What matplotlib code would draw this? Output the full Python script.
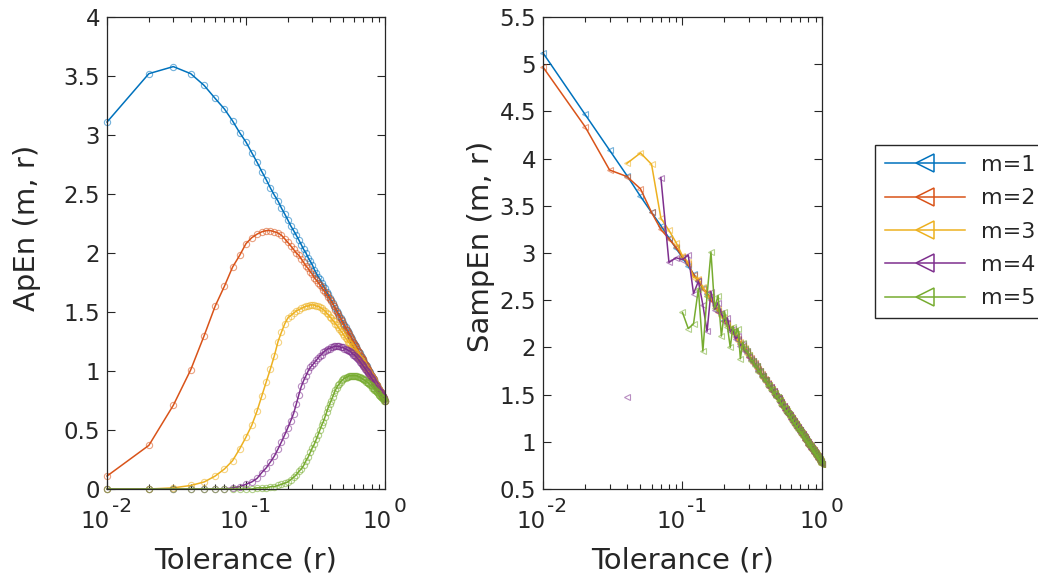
import matplotlib
matplotlib.use('Agg')
import matplotlib.pyplot as plt
from matplotlib.lines import Line2D
from matplotlib.ticker import LogLocator, NullFormatter
from matplotlib.transforms import blended_transform_factory, offset_copy

nan = float('nan')

# tolerance grid
r = [0.01, 0.02, 0.03, 0.04, 0.05, 0.06, 0.07, 0.08, 0.09, 0.10,
     0.11, 0.12, 0.13, 0.14, 0.15, 0.16, 0.17, 0.18, 0.19, 0.20,
     0.21, 0.22, 0.23, 0.24, 0.25, 0.26, 0.27, 0.28, 0.29, 0.30,
     0.31, 0.32, 0.33, 0.34, 0.35, 0.36, 0.37, 0.38, 0.39, 0.40,
     0.41, 0.42, 0.43, 0.44, 0.45, 0.46, 0.47, 0.48, 0.49, 0.50,
     0.51, 0.52, 0.53, 0.54, 0.55, 0.56, 0.57, 0.58, 0.59, 0.60,
     0.61, 0.62, 0.63, 0.64, 0.65, 0.66, 0.67, 0.68, 0.69, 0.70,
     0.71, 0.72, 0.73, 0.74, 0.75, 0.76, 0.77, 0.78, 0.79, 0.80,
     0.81, 0.82, 0.83, 0.84, 0.85, 0.86, 0.87, 0.88, 0.89, 0.90,
     0.91, 0.92, 0.93, 0.94, 0.95, 0.96, 0.97, 0.98, 0.99, 1.00]

# ApEn(m, r)
apen_m1 = [3.11, 3.52, 3.58, 3.52, 3.42, 3.31, 3.22, 3.12, 3.02, 2.94,
           2.85, 2.77, 2.69, 2.62, 2.55, 2.49, 2.44, 2.38, 2.33, 2.28,
           2.23, 2.19, 2.15, 2.11, 2.07, 2.03, 2.00, 1.96, 1.93, 1.90,
           1.86, 1.83, 1.80, 1.78, 1.75, 1.72, 1.70, 1.67, 1.65, 1.62,
           1.60, 1.58, 1.55, 1.53, 1.51, 1.49, 1.47, 1.45, 1.43, 1.41,
           1.39, 1.37, 1.35, 1.34, 1.32, 1.30, 1.29, 1.27, 1.25, 1.24,
           1.22, 1.21, 1.19, 1.17, 1.16, 1.15, 1.13, 1.12, 1.10, 1.09,
           1.08, 1.06, 1.05, 1.04, 1.02, 1.01, 1.00, 0.99, 0.97, 0.96,
           0.95, 0.94, 0.93, 0.92, 0.91, 0.89, 0.88, 0.87, 0.86, 0.85,
           0.84, 0.83, 0.82, 0.81, 0.80, 0.79, 0.78, 0.77, 0.76, 0.75]
apen_m2 = [0.11, 0.37, 0.71, 1.01, 1.30, 1.55, 1.72, 1.88, 1.98, 2.08,
           2.13, 2.16, 2.18, 2.19, 2.19, 2.18, 2.17, 2.15, 2.12, 2.09,
           2.06, 2.03, 2.00, 1.98, 1.95, 1.92, 1.89, 1.87, 1.84, 1.82,
           1.79, 1.77, 1.75, 1.73, 1.71, 1.69, 1.67, 1.65, 1.63, 1.61,
           1.59, 1.57, 1.55, 1.52, 1.50, 1.48, 1.46, 1.44, 1.42, 1.40,
           1.38, 1.36, 1.35, 1.33, 1.31, 1.30, 1.28, 1.26, 1.25, 1.23,
           1.22, 1.20, 1.19, 1.17, 1.16, 1.14, 1.13, 1.11, 1.10, 1.09,
           1.07, 1.06, 1.05, 1.03, 1.02, 1.01, 1.00, 0.98, 0.97, 0.96,
           0.95, 0.94, 0.93, 0.91, 0.90, 0.89, 0.88, 0.87, 0.86, 0.85,
           0.84, 0.83, 0.82, 0.81, 0.80, 0.79, 0.78, 0.77, 0.76, 0.75]
apen_m3 = [0.00, 0.00, 0.01, 0.03, 0.06, 0.11, 0.17, 0.24, 0.34, 0.44,
           0.54, 0.66, 0.79, 0.91, 1.02, 1.13, 1.25, 1.33, 1.40, 1.45,
           1.47, 1.49, 1.51, 1.52, 1.53, 1.54, 1.55, 1.55, 1.56, 1.56,
           1.56, 1.55, 1.55, 1.54, 1.53, 1.52, 1.51, 1.49, 1.48, 1.46,
           1.45, 1.43, 1.42, 1.40, 1.39, 1.37, 1.36, 1.34, 1.33, 1.31,
           1.30, 1.28, 1.27, 1.25, 1.24, 1.23, 1.21, 1.20, 1.19, 1.17,
           1.16, 1.15, 1.14, 1.12, 1.11, 1.10, 1.09, 1.08, 1.07, 1.06,
           1.04, 1.03, 1.02, 1.01, 1.00, 0.99, 0.98, 0.97, 0.96, 0.95,
           0.94, 0.93, 0.92, 0.91, 0.90, 0.89, 0.88, 0.87, 0.86, 0.85,
           0.84, 0.83, 0.82, 0.81, 0.80, 0.79, 0.78, 0.77, 0.76, 0.75]
apen_m4 = [0.00, 0.00, 0.00, 0.00, 0.00, 0.00, 0.00, 0.01, 0.02, 0.04,
           0.06, 0.09, 0.14, 0.18, 0.23, 0.28, 0.34, 0.40, 0.46, 0.52,
           0.58, 0.64, 0.72, 0.80, 0.87, 0.92, 0.96, 1.00, 1.03, 1.05,
           1.07, 1.09, 1.11, 1.13, 1.14, 1.16, 1.17, 1.18, 1.19, 1.19,
           1.20, 1.20, 1.21, 1.21, 1.21, 1.21, 1.21, 1.20, 1.20, 1.20,
           1.19, 1.19, 1.18, 1.18, 1.17, 1.17, 1.16, 1.15, 1.14, 1.14,
           1.13, 1.12, 1.11, 1.10, 1.09, 1.08, 1.07, 1.06, 1.05, 1.04,
           1.03, 1.02, 1.01, 1.00, 0.99, 0.98, 0.97, 0.96, 0.95, 0.94,
           0.93, 0.92, 0.91, 0.90, 0.89, 0.88, 0.87, 0.86, 0.85, 0.84,
           0.83, 0.82, 0.82, 0.81, 0.80, 0.79, 0.78, 0.77, 0.76, 0.75]
apen_m5 = [0.00, 0.00, 0.00, 0.00, 0.00, 0.00, 0.00, 0.00, 0.00, 0.00,
           0.00, 0.01, 0.01, 0.01, 0.02, 0.02, 0.03, 0.04, 0.05, 0.06,
           0.08, 0.10, 0.12, 0.15, 0.17, 0.20, 0.24, 0.27, 0.31, 0.35,
           0.38, 0.42, 0.46, 0.50, 0.54, 0.57, 0.61, 0.65, 0.69, 0.72,
           0.75, 0.78, 0.81, 0.84, 0.86, 0.88, 0.89, 0.91, 0.92, 0.93,
           0.94, 0.94, 0.95, 0.95, 0.96, 0.96, 0.96, 0.96, 0.96, 0.96,
           0.96, 0.96, 0.96, 0.95, 0.95, 0.95, 0.94, 0.94, 0.93, 0.93,
           0.92, 0.92, 0.91, 0.91, 0.90, 0.90, 0.89, 0.88, 0.88, 0.87,
           0.86, 0.86, 0.85, 0.84, 0.84, 0.83, 0.82, 0.82, 0.81, 0.80,
           0.80, 0.79, 0.78, 0.78, 0.77, 0.77, 0.76, 0.76, 0.75, 0.75]

# SampEn(m, r)  (nan = undefined)
sampen_m1 = [5.12, 4.47, 4.09, 3.82, 3.60, 3.43, 3.29, 3.16, 3.05, 2.95,
             2.86, 2.78, 2.70, 2.63, 2.57, 2.51, 2.45, 2.39, 2.34, 2.29,
             2.25, 2.20, 2.16, 2.12, 2.08, 2.05, 2.01, 1.98, 1.94, 1.91,
             1.88, 1.85, 1.82, 1.79, 1.76, 1.74, 1.71, 1.69, 1.66, 1.64,
             1.61, 1.59, 1.57, 1.55, 1.53, 1.51, 1.48, 1.47, 1.45, 1.43,
             1.41, 1.39, 1.37, 1.35, 1.34, 1.32, 1.30, 1.29, 1.27, 1.25,
             1.24, 1.22, 1.21, 1.19, 1.18, 1.16, 1.15, 1.13, 1.12, 1.11,
             1.09, 1.08, 1.07, 1.06, 1.04, 1.03, 1.02, 1.01, 0.99, 0.98,
             0.97, 0.96, 0.95, 0.93, 0.92, 0.91, 0.90, 0.89, 0.88, 0.87,
             0.86, 0.85, 0.84, 0.83, 0.82, 0.81, 0.80, 0.79, 0.78, 0.77]
sampen_m2 = [4.97, 4.34, 3.88, 3.81, 3.68, 3.43, 3.25, 3.15, 3.06, 2.96,
             2.88, 2.77, 2.71, 2.62, 2.58, 2.50, 2.46, 2.38, 2.35, 2.28,
             2.26, 2.19, 2.17, 2.11, 2.09, 2.04, 2.02, 1.97, 1.95, 1.90,
             1.89, 1.84, 1.83, 1.78, 1.77, 1.73, 1.72, 1.68, 1.67, 1.63,
             1.62, 1.58, 1.58, 1.54, 1.54, 1.50, 1.49, 1.46, 1.46, 1.42,
             1.42, 1.38, 1.38, 1.34, 1.35, 1.31, 1.31, 1.28, 1.28, 1.24,
             1.25, 1.21, 1.22, 1.18, 1.19, 1.15, 1.16, 1.12, 1.13, 1.10,
             1.10, 1.07, 1.08, 1.05, 1.05, 1.02, 1.03, 1.00, 1.00, 0.97,
             0.98, 0.95, 0.96, 0.92, 0.93, 0.90, 0.91, 0.88, 0.89, 0.86,
             0.87, 0.84, 0.85, 0.82, 0.83, 0.80, 0.81, 0.78, 0.79, 0.77]
sampen_m3 = [nan, nan, nan, 3.95, 4.06, 3.94, 3.37, 3.24, 3.11, 2.97,
             2.90, 2.74, 2.73, 2.64, 2.55, 2.53, 2.44, 2.41, 2.33, 2.31,
             2.24, 2.21, 2.15, 2.13, 2.07, 2.06, 2.00, 1.99, 1.93, 1.92,
             1.87, 1.86, 1.81, 1.80, 1.75, 1.75, 1.70, 1.70, 1.65, 1.65,
             1.60, 1.60, 1.56, 1.56, 1.52, 1.52, 1.47, 1.48, 1.44, 1.44,
             1.40, 1.40, 1.36, 1.36, 1.33, 1.33, 1.29, 1.30, 1.26, 1.26,
             1.23, 1.23, 1.20, 1.20, 1.17, 1.17, 1.14, 1.14, 1.11, 1.11,
             1.08, 1.09, 1.06, 1.06, 1.03, 1.04, 1.01, 1.01, 0.98, 0.99,
             0.96, 0.97, 0.94, 0.94, 0.91, 0.92, 0.89, 0.90, 0.87, 0.88,
             0.85, 0.86, 0.83, 0.84, 0.81, 0.82, 0.79, 0.80, 0.77, 0.77]
sampen_m4 = [nan, nan, nan, 1.47, nan, nan, 3.80, 2.90, 2.95, 2.93,
             2.98, 2.57, 2.70, 2.45, 2.17, 2.59, 2.40, 2.47, 2.36, 2.28,
             2.31, 2.17, 2.20, 2.09, 2.12, 2.02, 2.04, 1.96, 1.96, 1.90,
             1.87, 1.86, 1.81, 1.80, 1.75, 1.75, 1.70, 1.70, 1.65, 1.65,
             1.61, 1.58, 1.58, 1.54, 1.54, 1.50, 1.49, 1.46, 1.46, 1.42,
             1.42, 1.38, 1.38, 1.34, 1.35, 1.31, 1.31, 1.28, 1.28, 1.24,
             1.25, 1.21, 1.22, 1.18, 1.19, 1.15, 1.16, 1.12, 1.13, 1.10,
             1.10, 1.07, 1.08, 1.05, 1.05, 1.02, 1.03, 1.00, 1.00, 0.97,
             0.98, 0.95, 0.96, 0.92, 0.93, 0.90, 0.91, 0.88, 0.89, 0.86,
             0.87, 0.84, 0.85, 0.82, 0.83, 0.80, 0.81, 0.78, 0.79, 0.77]
sampen_m5 = [nan, nan, nan, nan, nan, nan, nan, nan, nan, 2.37,
             2.20, 2.25, 2.62, 1.96, 2.55, 3.01, 2.42, 2.55, 2.12, 2.38,
             2.22, 2.00, 2.22, 2.14, 2.20, 1.88, 2.05, 1.98, 1.96, 1.92,
             1.86, 1.86, 1.80, 1.80, 1.74, 1.75, 1.69, 1.70, 1.64, 1.65,
             1.59, 1.60, 1.55, 1.56, 1.51, 1.52, 1.47, 1.48, 1.43, 1.44,
             1.39, 1.40, 1.36, 1.36, 1.32, 1.33, 1.29, 1.30, 1.26, 1.26,
             1.22, 1.23, 1.19, 1.20, 1.16, 1.17, 1.13, 1.14, 1.11, 1.11,
             1.08, 1.09, 1.05, 1.06, 1.03, 1.04, 1.01, 1.01, 0.98, 0.99,
             0.96, 0.97, 0.94, 0.94, 0.91, 0.92, 0.89, 0.90, 0.87, 0.88,
             0.85, 0.86, 0.83, 0.84, 0.81, 0.82, 0.79, 0.80, 0.77, 0.77]

labels = ['m=1', 'm=2', 'm=3', 'm=4', 'm=5']
colors = ['#0072BD', '#D95319', '#EDB120', '#7E2F8E', '#77AC30']
apen = [apen_m1, apen_m2, apen_m3, apen_m4, apen_m5]
sampen = [sampen_m1, sampen_m2, sampen_m3, sampen_m4, sampen_m5]

xticks = [0.01, 0.1, 1]
xtick_exps = ['-2', '-1', '0']
apen_yticks = [0, 0.5, 1, 1.5, 2, 2.5, 3, 3.5, 4]
apen_ylabels = ['0', '0.5', '1', '1.5', '2', '2.5', '3', '3.5', '4']
sampen_yticks = [0.5, 1, 1.5, 2, 2.5, 3, 3.5, 4, 4.5, 5, 5.5]
sampen_ylabels = ['0.5', '1', '1.5', '2', '2.5', '3', '3.5', '4', '4.5', '5', '5.5']

dark = '#262626'
plt.rcParams['font.family'] = 'DejaVu Sans'

fig = plt.figure(figsize=(10.38, 5.79), dpi=100)
ax1 = fig.add_axes([0.1031, 0.1554, 0.2678, 0.8152])
ax2 = fig.add_axes([0.5231, 0.1554, 0.2688, 0.8152])


def px(v):
    return v * 0.72


def style(ax, yticks, ylabels, ylim):
    ax.set_xscale('log')
    ax.set_xlim(0.01, 1)
    ax.set_ylim(*ylim)
    ax.set_xticks(xticks, ['', '', ''])
    ax.xaxis.set_minor_locator(LogLocator(subs=range(2, 10)))
    ax.xaxis.set_minor_formatter(NullFormatter())
    ax.set_yticks(yticks, ylabels)
    ax.tick_params(which='both', direction='in', top=True, right=True,
                   colors=dark, width=0.8, labelsize=16.5)
    ax.tick_params(which='major', length=6)
    ax.tick_params(which='minor', length=3.5)
    ax.tick_params(axis='y', pad=5)
    for s in ax.spines.values():
        s.set_color(dark)
        s.set_linewidth(0.9)
    # MATLAB-like "10" with a raised exponent
    tr = blended_transform_factory(ax.transData, ax.transAxes)
    for x, e in zip(xticks, xtick_exps):
        right10 = 3 if e.startswith('-') else 7
        t10 = offset_copy(tr, fig=fig, x=px(right10), y=px(-39), units='points')
        ax.text(x, 0, '10', transform=t10, ha='right', va='baseline',
                fontsize=16.5, color=dark, clip_on=False)
        te = offset_copy(tr, fig=fig, x=px(right10 + 1.5), y=px(-23),
                         units='points')
        ax.text(x, 0, e, transform=te, ha='left', va='baseline',
                fontsize=14.5, color=dark, clip_on=False)
    ax.set_xlabel('Tolerance (r)', fontsize=21, color=dark)
    ax.xaxis.set_label_coords(0.5, -0.121)


for vals, c in zip(apen, colors):
    ax1.plot(r, vals, '-', color=c, lw=1.1, clip_on=False)
    ax1.plot(r, vals, 'o', ms=4.5, mfc='none', mec=c, mew=0.8, alpha=0.55,
             clip_on=False)

for vals, c in zip(sampen, colors):
    ax2.plot(r, vals, '-', color=c, lw=1.1, clip_on=False)
    ax2.plot(r, vals, '<', ms=5, mfc='none', mec=c, mew=0.8, alpha=0.55,
             clip_on=False)

style(ax1, apen_yticks, apen_ylabels, (0, 4))
style(ax2, sampen_yticks, sampen_ylabels, (0.5, 5.5))

ax1.set_ylabel('ApEn (m, r)', fontsize=21, color=dark)
ax1.yaxis.set_label_coords(-0.237, 0.553)
ax2.set_ylabel('SampEn (m, r)', fontsize=21, color=dark)
ax2.yaxis.set_label_coords(-0.172, 0.515)

handles = [Line2D([], [], color=c, lw=1.1, marker='<', ms=13, mfc='none',
                  mec=c, mew=1.1) for c in colors]
leg = fig.legend(handles, labels, loc='upper left',
                 bbox_to_anchor=(875 / 1038, 1 - 145 / 579),
                 borderaxespad=0, fontsize=16, handlelength=3.6,
                 handletextpad=0.7, labelspacing=0.6, borderpad=0.45,
                 fancybox=False, framealpha=1, edgecolor=dark)
leg.get_frame().set_linewidth(1.0)
for t in leg.get_texts():
    t.set_color(dark)

fig.savefig('out.png', dpi=100)
